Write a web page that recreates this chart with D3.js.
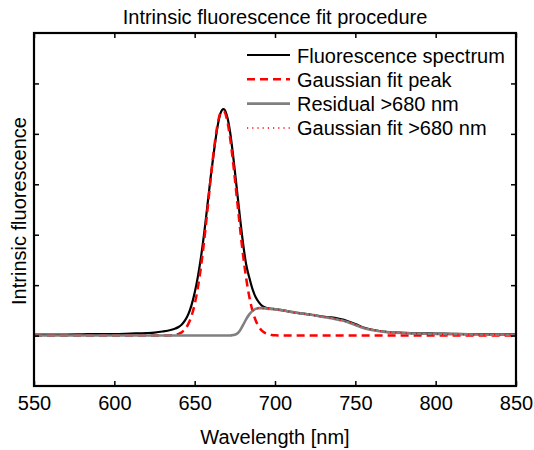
<!DOCTYPE html>
<html>
<head>
<meta charset="utf-8">
<script src="https://cdn.jsdelivr.net/npm/d3@7"></script>
<style>
  html, body { margin: 0; padding: 0; background: #fff; }
  svg text { font-family: "Liberation Sans", Arial, Helvetica, sans-serif; fill: #000; }
</style>
</head>
<body>
<svg id="chart" width="534" height="450"></svg>
<script>
// ---- data ----
const title = "Intrinsic fluorescence fit procedure";
const xLabel = "Wavelength [nm]";
const yLabel = "Intrinsic fluorescence";
const xTicks = [550, 600, 650, 700, 750, 800, 850];
const yTicks = [0, 1, 2, 3, 4, 5];
const seriesNames = ["Fluorescence spectrum", "Gaussian fit peak", "Residual >680 nm", "Gaussian fit >680 nm"];

const specWl  = [550,560,570,580,590,600,610,620,625,630,635,638,640,642,644,646,648,650,652,654,656,658,660,662,664,666,667,668,669,670,672,674,676,678,680,682,684,686,688,690,692,694,697,700,705,710,715,720,725,730,735,740,745,750,755,760,765,770,780,790,800,810,820,830,840,850];
const specVal = [0.02,0.02,0.02,0.025,0.03,0.03,0.04,0.05,0.06,0.08,0.11,0.14,0.17,0.22,0.3,0.42,0.6,0.85,1.17,1.57,2.05,2.6,3.15,3.65,4.1,4.4,4.47,4.49,4.46,4.37,4.05,3.55,2.98,2.4,1.86,1.42,1.15,0.92,0.76,0.66,0.59,0.555,0.535,0.525,0.5,0.47,0.445,0.425,0.4,0.375,0.36,0.33,0.29,0.23,0.16,0.12,0.09,0.07,0.055,0.045,0.04,0.035,0.03,0.03,0.025,0.025];

const gaussWl  = [550,600,630,638,640,642,644,646,648,650,652,654,656,658,660,662,664,666,668,670,672,674,676,678,680,682,684,686,688,690,692,694,696,698,700,704,850];
const gaussVal = [0,0,0,0.01,0.034,0.067,0.127,0.227,0.385,0.62,0.95,1.38,1.91,2.5,3.12,3.69,4.14,4.41,4.45,4.3,3.93,3.41,2.81,2.2,1.63,1.15,0.77,0.49,0.3,0.17,0.093,0.048,0.023,0.01,0.004,0,0];

const residWl  = [550,600,650,672,674,676,678,680,682,684,686,688,690,692,695,700,705,710,715,720,725,730,735,740,745,750,755,760,765,770,780,790,800,810,820,830,840,850];
const residVal = [0,0,0,0,0.01,0.03,0.09,0.2,0.32,0.42,0.49,0.53,0.545,0.545,0.535,0.52,0.5,0.47,0.445,0.42,0.4,0.37,0.345,0.31,0.27,0.21,0.15,0.11,0.085,0.068,0.05,0.04,0.032,0.028,0.024,0.02,0.018,0.015];

const fitWl  = [686,690,695,700,710,720,730,740,750,760,770,780,800,820,850];
const fitVal = [0.5,0.54,0.535,0.52,0.47,0.42,0.375,0.31,0.22,0.12,0.075,0.05,0.03,0.02,0.01];

// ---- layout ----
const svg = d3.select("#chart");
const L = 34, R = 516, T = 33, B = 386;
const x = d3.scaleLinear().domain([550, 850]).range([L, R]);
const y = d3.scaleLinear().domain([-1, 6]).range([B, T]);

const zip = (a, b) => a.map((v, i) => [v, b[i]]);
const line = d3.line().x(d => x(d[0])).y(d => y(d[1])).curve(d3.curveMonotoneX);

const plot = svg.append("g");
plot.append("defs").append("clipPath").attr("id", "clip")
  .append("rect").attr("x", L).attr("y", T).attr("width", R - L).attr("height", B - T);
const g = plot.append("g").attr("clip-path", "url(#clip)");

g.append("path").datum(zip(specWl, specVal)).attr("d", line)
  .attr("fill", "none").attr("stroke", "#000").attr("stroke-width", 2.2);
g.append("path").datum(zip(gaussWl, gaussVal)).attr("d", line)
  .attr("fill", "none").attr("stroke", "#ff0000").attr("stroke-width", 2.5)
  .attr("stroke-dasharray", "8,5");
g.append("path").datum(zip(residWl, residVal)).attr("d", line)
  .attr("fill", "none").attr("stroke", "#808080").attr("stroke-width", 2.6);
g.append("path").datum(zip(fitWl, fitVal)).attr("d", line)
  .attr("fill", "none").attr("stroke", "#ff0000").attr("stroke-width", 1.5)
  .attr("stroke-dasharray", "1.2,4");

// ---- axes ----
const fontSize = 20;
const axB = svg.append("g").attr("transform", `translate(0,${B})`)
  .call(d3.axisBottom(x).tickValues(xTicks).tickSize(-5).tickPadding(10).tickFormat(d3.format("d")));
const axT = svg.append("g").attr("transform", `translate(0,${T})`)
  .call(d3.axisTop(x).tickValues(xTicks).tickSize(-5).tickFormat(""));
const axL = svg.append("g").attr("transform", `translate(${L},0)`)
  .call(d3.axisLeft(y).tickValues(yTicks).tickSize(-5).tickFormat(""));
const axR = svg.append("g").attr("transform", `translate(${R},0)`)
  .call(d3.axisRight(y).tickValues(yTicks).tickSize(-5).tickFormat(""));
[axB, axT, axL, axR].forEach(a => {
  a.select(".domain").remove();
  a.selectAll(".tick line").attr("stroke", "#000").attr("stroke-width", 1.5);
});
axB.selectAll(".tick text").attr("font-size", fontSize)
  .attr("font-family", "Liberation Sans, Arial, sans-serif").attr("fill", "#000");

svg.append("rect").attr("x", L).attr("y", T).attr("width", R - L).attr("height", B - T)
  .attr("fill", "none").attr("stroke", "#000").attr("stroke-width", 2.2);

// ---- texts ----
svg.append("text").attr("x", (L + R) / 2).attr("y", 24).attr("text-anchor", "middle")
  .attr("font-size", 20).text(title);
svg.append("text").attr("x", (L + R) / 2).attr("y", 444).attr("text-anchor", "middle")
  .attr("font-size", fontSize).text(xLabel);
svg.append("text").attr("transform", `translate(26,211) rotate(-90)`)
  .attr("text-anchor", "middle").attr("font-size", fontSize).text(yLabel);

// ---- legend ----
const legStyles = [
  {stroke: "#000", w: 2.2, dash: null},
  {stroke: "#ff0000", w: 2.5, dash: "8,5"},
  {stroke: "#808080", w: 2.6, dash: null},
  {stroke: "#ff0000", w: 1.5, dash: "1.2,4"}
];
const legY0 = 55, legDy = 24.3;
const leg = svg.append("g");
seriesNames.forEach((name, i) => {
  const yy = legY0 + i * legDy;
  const s = legStyles[i];
  leg.append("line").attr("x1", 247).attr("x2", 290).attr("y1", yy).attr("y2", yy)
    .attr("stroke", s.stroke).attr("stroke-width", s.w).attr("stroke-dasharray", s.dash);
  leg.append("text").attr("x", 297).attr("y", yy + 7.5).attr("font-size", fontSize).text(name);
});
</script>
</body>
</html>
